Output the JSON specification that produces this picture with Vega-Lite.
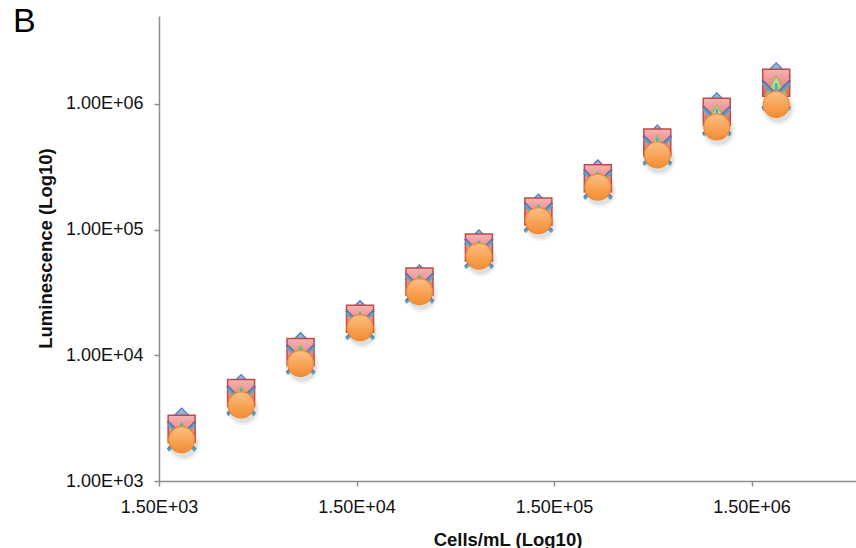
{
  "$schema": "https://vega.github.io/schema/vega-lite/v6.json",
  "width": 697,
  "height": 465,
  "autosize": "none",
  "padding": {"left": 159, "top": 16, "right": 0, "bottom": 67},
  "background": "white",
  "config": {
    "view": {"stroke": null},
    "font": "Liberation Sans"
  },
  "title": {
    "text": "B",
    "anchor": "start",
    "frame": "group",
    "orient": "top",
    "fontSize": 34,
    "fontWeight": "normal",
    "font": "Liberation Sans",
    "color": "#000000",
    "baseline": "alphabetic",
    "offset": 0,
    "dx": -146,
    "dy": 50
  },
  "data": {
    "values": [
      {"cells": 1953.125, "series": "Series1", "lum": 2950},
      {"cells": 3906.25, "series": "Series1", "lum": 5450},
      {"cells": 7812.5, "series": "Series1", "lum": 11750},
      {"cells": 15625, "series": "Series1", "lum": 21200},
      {"cells": 31250, "series": "Series1", "lum": 40700},
      {"cells": 62500, "series": "Series1", "lum": 77300},
      {"cells": 125000, "series": "Series1", "lum": 149000},
      {"cells": 250000, "series": "Series1", "lum": 278000},
      {"cells": 500000, "series": "Series1", "lum": 527000},
      {"cells": 1000000, "series": "Series1", "lum": 952000},
      {"cells": 2000000, "series": "Series1", "lum": 1650000},
      {"cells": 1953.125, "series": "Series2", "lum": 2600},
      {"cells": 3906.25, "series": "Series2", "lum": 5020},
      {"cells": 7812.5, "series": "Series2", "lum": 10600},
      {"cells": 15625, "series": "Series2", "lum": 19500},
      {"cells": 31250, "series": "Series2", "lum": 38700},
      {"cells": 62500, "series": "Series2", "lum": 72100},
      {"cells": 125000, "series": "Series2", "lum": 139000},
      {"cells": 250000, "series": "Series2", "lum": 256000},
      {"cells": 500000, "series": "Series2", "lum": 492000},
      {"cells": 1000000, "series": "Series2", "lum": 867000},
      {"cells": 2000000, "series": "Series2", "lum": 1470000},
      {"cells": 1953.125, "series": "Series3", "lum": 2460},
      {"cells": 3906.25, "series": "Series3", "lum": 4740},
      {"cells": 7812.5, "series": "Series3", "lum": 10050},
      {"cells": 15625, "series": "Series3", "lum": 18500},
      {"cells": 31250, "series": "Series3", "lum": 36600},
      {"cells": 62500, "series": "Series3", "lum": 68200},
      {"cells": 125000, "series": "Series3", "lum": 132000},
      {"cells": 250000, "series": "Series3", "lum": 242000},
      {"cells": 500000, "series": "Series3", "lum": 466000},
      {"cells": 1000000, "series": "Series3", "lum": 820000},
      {"cells": 2000000, "series": "Series3", "lum": 1390000},
      {"cells": 1953.125, "series": "Series4", "lum": 2310},
      {"cells": 3906.25, "series": "Series4", "lum": 4410},
      {"cells": 7812.5, "series": "Series4", "lum": 9390},
      {"cells": 15625, "series": "Series4", "lum": 17700},
      {"cells": 31250, "series": "Series4", "lum": 34700},
      {"cells": 62500, "series": "Series4", "lum": 65400},
      {"cells": 125000, "series": "Series4", "lum": 126000},
      {"cells": 250000, "series": "Series4", "lum": 232000},
      {"cells": 500000, "series": "Series4", "lum": 432000},
      {"cells": 1000000, "series": "Series4", "lum": 741000},
      {"cells": 2000000, "series": "Series4", "lum": 1190000},
      {"cells": 1953.125, "series": "Series5", "lum": 2220},
      {"cells": 3906.25, "series": "Series5", "lum": 4250},
      {"cells": 7812.5, "series": "Series5", "lum": 9050},
      {"cells": 15625, "series": "Series5", "lum": 17100},
      {"cells": 31250, "series": "Series5", "lum": 33400},
      {"cells": 62500, "series": "Series5", "lum": 63100},
      {"cells": 125000, "series": "Series5", "lum": 122000},
      {"cells": 250000, "series": "Series5", "lum": 223000},
      {"cells": 500000, "series": "Series5", "lum": 416000},
      {"cells": 1000000, "series": "Series5", "lum": 715000},
      {"cells": 2000000, "series": "Series5", "lum": 1140000},
      {"cells": 1953.125, "series": "Series6", "lum": 2130},
      {"cells": 3906.25, "series": "Series6", "lum": 4030},
      {"cells": 7812.5, "series": "Series6", "lum": 8610},
      {"cells": 15625, "series": "Series6", "lum": 16600},
      {"cells": 31250, "series": "Series6", "lum": 32100},
      {"cells": 62500, "series": "Series6", "lum": 61500},
      {"cells": 125000, "series": "Series6", "lum": 118000},
      {"cells": 250000, "series": "Series6", "lum": 218000},
      {"cells": 500000, "series": "Series6", "lum": 392000},
      {"cells": 1000000, "series": "Series6", "lum": 657000},
      {"cells": 2000000, "series": "Series6", "lum": 991000}
    ]
  },
  "encoding": {
    "x": {
      "field": "cells",
      "type": "quantitative",
      "scale": {"type": "log", "domain": [1500, 5070000], "nice": false},
      "axis": {
        "title": "Cells/mL (Log10)",
        "values": [1500, 15000, 150000, 1500000],
        "labelExpr": "format(datum.value / pow(10, floor(log(datum.value) / LN10 + 1e-9)), '.2f') + 'E+0' + floor(log(datum.value) / LN10 + 1e-9)",
        "grid": false,
        "domainColor": "#8c8c8c",
        "domainWidth": 1.5,
        "tickColor": "#8c8c8c",
        "tickWidth": 1.5,
        "tickSize": 5,
        "labelFontSize": 18,
        "labelColor": "#111111",
        "labelPadding": 12,
        "labelFlush": false,
        "labelOverlap": false,
        "titleFontSize": 18.5,
        "titleFontWeight": "bold",
        "titleColor": "#111111",
        "titleBaseline": "alphabetic",
        "titleY": 64,
        "titleX": 348.5
      }
    },
    "y": {
      "field": "lum",
      "type": "quantitative",
      "scale": {"type": "log", "domain": [1000, 5000000], "nice": false},
      "axis": {
        "title": "Luminescence (Log10)",
        "values": [1000, 10000, 100000, 1000000],
        "labelExpr": "format(datum.value / pow(10, floor(log(datum.value) / LN10 + 1e-9)), '.2f') + 'E+0' + floor(log(datum.value) / LN10 + 1e-9)",
        "grid": false,
        "domainColor": "#8c8c8c",
        "domainWidth": 1.5,
        "tickColor": "#8c8c8c",
        "tickWidth": 1.5,
        "tickSize": 5,
        "labelFontSize": 18,
        "labelColor": "#111111",
        "labelPadding": 11,
        "labelFlush": false,
        "labelOverlap": false,
        "titleFontSize": 18.5,
        "titleFontWeight": "bold",
        "titleColor": "#111111",
        "titleAngle": 270,
        "titleAlign": "center",
        "titleBaseline": "middle",
        "titleX": -114,
        "titleY": 232
      }
    }
  },
  "layer": [
    {
      "transform": [{"filter": "datum.series === 'Series6'"}],
      "mark": {
        "type": "point", "shape": "circle", "size": 1100, "filled": true,
        "fill": "#000000", "opacity": 0.05, "xOffset": 2, "yOffset": 4, "strokeWidth": 0
      }
    },
    {
      "transform": [{"filter": "datum.series === 'Series6'"}],
      "mark": {
        "type": "point", "shape": "circle", "size": 800, "filled": true,
        "fill": "#000000", "opacity": 0.08, "xOffset": 2, "yOffset": 4, "strokeWidth": 0
      }
    },
    {
      "transform": [{"filter": "datum.series === 'Series1'"}],
      "mark": {
        "type": "point", "shape": "diamond", "size": 760, "filled": true, "opacity": 1,
        "fill": {"gradient": "linear", "x1": 0, "y1": 0, "x2": 0, "y2": 1,
          "stops": [{"offset": 0, "color": "#9DBBE3"}, {"offset": 1, "color": "#4F81BD"}]},
        "stroke": "#4A7EBB", "strokeWidth": 1.2
      }
    },
    {
      "transform": [{"filter": "datum.series === 'Series2'"}],
      "mark": {
        "type": "point", "shape": "square", "size": 729, "filled": true, "opacity": 1,
        "fill": {"gradient": "linear", "x1": 0, "y1": 0, "x2": 0, "y2": 1,
          "stops": [{"offset": 0, "color": "#F4B4B3"}, {"offset": 0.5, "color": "#E8908E"}, {"offset": 1, "color": "#D0605D"}]},
        "stroke": "#BE4B48", "strokeWidth": 1.5
      }
    },
    {
      "transform": [{"filter": "datum.series === 'Series3'"}],
      "mark": {
        "type": "point", "shape": "triangle-up", "size": 480, "filled": true, "opacity": 1,
        "fill": {"gradient": "linear", "x1": 0, "y1": 0, "x2": 0, "y2": 1,
          "stops": [{"offset": 0, "color": "#D7E4BD"}, {"offset": 1, "color": "#9BBB59"}]},
        "stroke": "#98B954", "strokeWidth": 1.2
      }
    },
    {
      "transform": [{"filter": "datum.series === 'Series4'"}],
      "mark": {
        "type": "point", "shape": "M-1,-1L1,1M-1,1L1,-1", "size": 784, "filled": false, "opacity": 1,
        "stroke": "#7E62A1", "strokeWidth": 2.5
      }
    },
    {
      "transform": [{"filter": "datum.series === 'Series5'"}],
      "mark": {
        "type": "point", "shape": "M-1,-1L1,1M-1,1L1,-1M0,-1L0,1", "size": 720, "filled": false, "opacity": 1,
        "stroke": "#4BACC6", "strokeWidth": 2.5
      }
    },
    {
      "transform": [{"filter": "datum.series === 'Series6'"}],
      "mark": {
        "type": "point", "shape": "circle", "size": 676, "filled": true, "opacity": 1,
        "fill": {"gradient": "linear", "x1": 0, "y1": 0, "x2": 0, "y2": 1,
          "stops": [{"offset": 0, "color": "#FBBF88"}, {"offset": 0.6, "color": "#F8A050"}, {"offset": 1, "color": "#F28C34"}]},
        "stroke": "#F08A30", "strokeWidth": 1.2
      }
    }
  ]
}
